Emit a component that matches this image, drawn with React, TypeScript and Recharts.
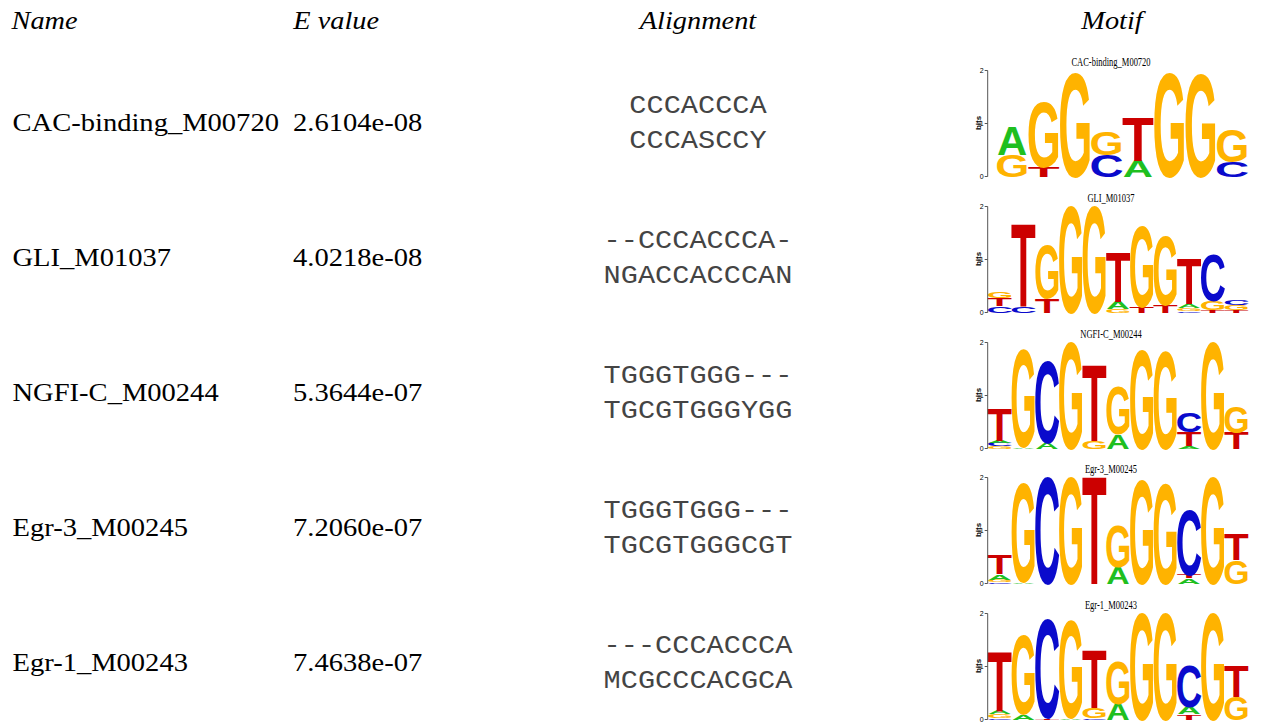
import React from "react";
import { Bar, BarChart, XAxis, YAxis } from "recharts";

type Cell = [string, number];

const NAMES = ["CAC-binding_M00720", "GLI_M01037", "NGFI-C_M00244", "Egr-3_M00245", "Egr-1_M00243"];
const E_VALUES = ["2.6104e-08", "4.0218e-08", "5.3644e-07", "7.2060e-07", "7.4638e-07"];
const QUERY_ALIGN = ["CCCACCCA", "--CCCACCCA-", "TGGGTGGG---", "TGGGTGGG---", "---CCCACCCA"];
const TARGET_ALIGN = ["CCCASCCY", "NGACCACCCAN", "TGCGTGGGYGG", "TGCGTGGGCGT", "MCGCCCACGCA"];
const HEADERS = ["Name", "E value", "Alignment", "Motif"];
const BIT_TICKS = [0, 1, 2];

// each column lists letters bottom -> top with their height in bits
const CAC_LOGO: Cell[][] = [
  [["G", 0.4], ["A", 0.54]],
  [["T", 0.18], ["G", 1.2]],
  [["G", 1.94]],
  [["C", 0.4], ["G", 0.44]],
  [["A", 0.3], ["T", 0.82]],
  [["G", 1.94]],
  [["G", 1.9]],
  [["C", 0.28], ["G", 0.6]],
];

const GLI_LOGO: Cell[][] = [
  [["C", 0.13], ["T", 0.14], ["G", 0.12]],
  [["C", 0.11], ["T", 1.55]],
  [["T", 0.27], ["G", 1.0]],
  [["G", 1.98]],
  [["G", 1.97]],
  [["G", 0.06], ["A", 0.13], ["T", 0.92]],
  [["T", 0.11], ["G", 1.5]],
  [["T", 0.15], ["G", 1.28]],
  [["C", 0.03], ["G", 0.05], ["A", 0.08], ["T", 0.84]],
  [["T", 0.05], ["G", 0.16], ["C", 0.87]],
  [["T", 0.05], ["G", 0.1], ["C", 0.1]],
];

const NGFI_LOGO: Cell[][] = [
  [["G", 0.05], ["C", 0.06], ["A", 0.04], ["T", 0.6]],
  [["A", 0.02], ["G", 1.82]],
  [["A", 0.11], ["C", 1.53]],
  [["G", 1.97]],
  [["G", 0.15], ["T", 1.42]],
  [["A", 0.27], ["G", 0.9]],
  [["G", 1.84]],
  [["G", 1.8]],
  [["A", 0.04], ["T", 0.27], ["C", 0.35]],
  [["G", 1.97]],
  [["T", 0.3], ["G", 0.48]],
];

const EGR3_LOGO: Cell[][] = [
  [["C", 0.03], ["G", 0.04], ["A", 0.1], ["T", 0.35]],
  [["A", 0.02], ["G", 1.83]],
  [["C", 1.97]],
  [["G", 1.97]],
  [["T", 2.0]],
  [["A", 0.32], ["G", 0.76]],
  [["G", 1.94]],
  [["G", 1.87]],
  [["A", 0.1], ["T", 0.06], ["C", 1.2]],
  [["G", 1.97]],
  [["G", 0.44], ["T", 0.48]],
];

const EGR1_LOGO: Cell[][] = [
  [["C", 0.02], ["G", 0.08], ["A", 0.06], ["T", 1.11]],
  [["A", 0.1], ["G", 1.48]],
  [["T", 0.03], ["C", 1.84]],
  [["A", 0.02], ["G", 1.82]],
  [["C", 0.03], ["G", 0.18], ["T", 1.08]],
  [["A", 0.3], ["G", 0.79]],
  [["G", 1.97]],
  [["G", 1.97]],
  [["T", 0.1], ["A", 0.13], ["C", 0.76]],
  [["G", 1.98]],
  [["G", 0.43], ["T", 0.57]],
];

const LOGOS = [CAC_LOGO, GLI_LOGO, NGFI_LOGO, EGR3_LOGO, EGR1_LOGO];

const BASE_COLORS: Record<string, string> = {
  A: "#1fbf1f",
  C: "#0a0acc",
  G: "#ffb300",
  T: "#cc0000",
};

// ink extents of Liberation Sans Bold glyphs at font-size 100
const INK: Record<string, [number, number]> = {
  A: [0.5, 71.5],
  C: [4.5, 67.5],
  G: [4.5, 72.5],
  T: [2, 59],
};
const CAP = 69;
const SLOTS = [0, 1, 2, 3];
const ROW_STEP = 135;
const LOGO_STEP = 135.8;

const serif = "'Liberation Serif', 'Times New Roman', serif";
const mono = "'Liberation Mono', 'Courier New', monospace";
const sans = "'Liberation Sans', Arial, sans-serif";

function toRows(columns: Cell[][]) {
  return columns.map((col, i) => {
    const row: Record<string, string | number> = { pos: i + 1 };
    SLOTS.forEach((k) => {
      row[`h${k}`] = col[k] ? col[k][1] : 0;
      row[`l${k}`] = col[k] ? col[k][0] : "";
    });
    return row;
  });
}

function Letter(props: any) {
  const { x, y, width, height, payload, slot } = props;
  const letter = payload?.[`l${slot}`] as string;
  if (!letter || !height || height <= 0) return null;
  const [l, r] = INK[letter];
  const inkW = width * 0.96;
  const sx = inkW / (r - l);
  const tx = x + (width - inkW) / 2 - l * sx;
  return (
    <text
      x={0}
      y={0}
      fontSize={100}
      fontFamily={sans}
      fontWeight="bold"
      fill={BASE_COLORS[letter]}
      transform={`translate(${tx},${y + height}) scale(${sx},${height / CAP})`}
    >
      {letter}
    </text>
  );
}

// horizontally stretched text, the reference type runs wide
function Wide(props: { x: number; y: number; sx: number; anchor?: "start" | "middle"; children: React.ReactNode; [k: string]: any }) {
  const { x, y, sx, anchor = "start", children, ...rest } = props;
  return (
    <text x={0} y={0} textAnchor={anchor} transform={`translate(${x},${y}) scale(${sx},1)`} {...rest}>
      {children}
    </text>
  );
}

function Logo({ columns, top }: { columns: Cell[][]; top: number }) {
  const rows = toRows(columns);
  const padLeft = columns.length < 10 ? 9 : 0;
  return (
    <div style={{ position: "absolute", left: 975, top, width: 280, height: 130 }}>
      <BarChart
        width={280}
        height={130}
        data={rows}
        margin={{ top: 15.5, right: 7, bottom: 8.5, left: 0 }}
        barCategoryGap={0}
        barGap={0}
      >
        <XAxis dataKey="pos" hide padding={{ left: padLeft, right: 0 }} />
        <YAxis
          domain={[0, 2]}
          ticks={BIT_TICKS}
          width={12.7}
          tickSize={3}
          tickMargin={1}
          tick={{ fontSize: 7, fill: "#000", fontFamily: sans }}
          axisLine={{ stroke: "#555" }}
          tickLine={{ stroke: "#555" }}
          label={{
            content: () => (
              <text
                transform="translate(6,68) rotate(-90)"
                textAnchor="middle"
                fontSize={8}
                fontWeight="bold"
                fontFamily={sans}
                fill="#000"
              >
                bits
              </text>
            ),
          }}
        />
        {SLOTS.map((k) => (
          <Bar
            key={k}
            dataKey={`h${k}`}
            stackId="stack"
            isAnimationActive={false}
            shape={(p: any) => <Letter {...p} slot={k} />}
          />
        ))}
      </BarChart>
    </div>
  );
}

export default function App() {
  return (
    <div style={{ position: "absolute", left: 0, top: 0, width: 1263, height: 726, background: "#fff", overflow: "hidden" }}>
      <svg width={1263} height={726} style={{ position: "absolute", left: 0, top: 0 }}>
        <g fontFamily={serif} fontSize={26} fontStyle="italic" fill="#000">
          <Wide x={11.5} y={29.3} sx={1.09}>{HEADERS[0]}</Wide>
          <Wide x={293.3} y={29.3} sx={1.09}>{HEADERS[1]}</Wide>
          <Wide x={698} y={29.3} sx={1.09} anchor="middle">{HEADERS[2]}</Wide>
          <Wide x={1112} y={29.3} sx={1.09} anchor="middle">{HEADERS[3]}</Wide>
        </g>
        {NAMES.map((name, i) => (
          <g key={name}>
            <Wide x={12.5} y={130.7 + ROW_STEP * i} sx={1.09} fontFamily={serif} fontSize={26.2} fill="#000">
              {name}
            </Wide>
            <Wide x={293} y={130.7 + ROW_STEP * i} sx={1.09} fontFamily={serif} fontSize={26.2} fill="#000">
              {E_VALUES[i]}
            </Wide>
            <Wide x={698} y={113.3 + ROW_STEP * i} sx={1.1} anchor="middle" fontFamily={mono} fontSize={26} fill="#444">
              {QUERY_ALIGN[i]}
            </Wide>
            <Wide x={698} y={148.3 + ROW_STEP * i} sx={1.1} anchor="middle" fontFamily={mono} fontSize={26} fill="#444">
              {TARGET_ALIGN[i]}
            </Wide>
            <Wide x={1111} y={66 + LOGO_STEP * i} sx={0.68} anchor="middle" fontFamily={serif} fontSize={12.5} fill="#000">
              {name}
            </Wide>
          </g>
        ))}
      </svg>
      {LOGOS.map((cols, i) => (
        <Logo key={NAMES[i]} columns={cols} top={55 + LOGO_STEP * i} />
      ))}
    </div>
  );
}
